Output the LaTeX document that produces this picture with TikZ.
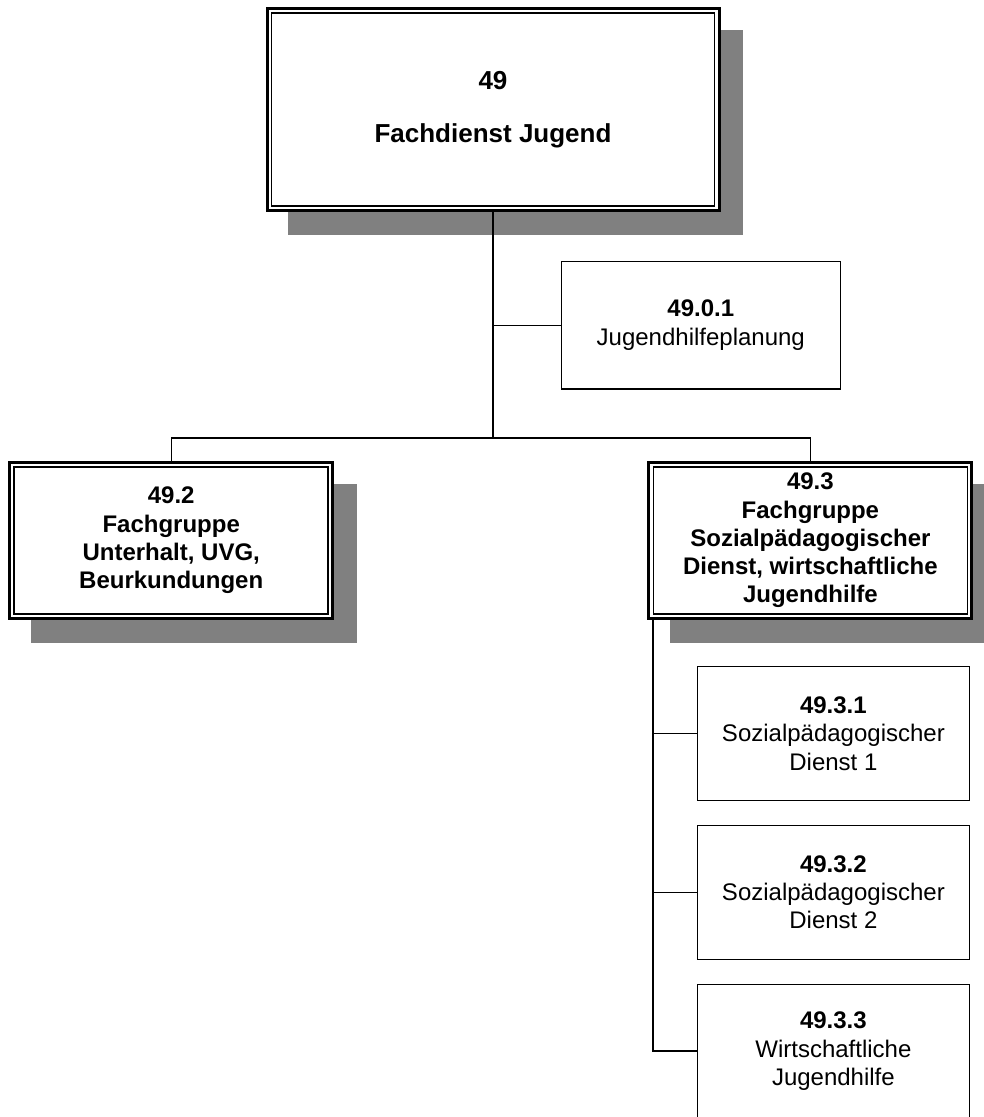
\documentclass[tikz,border=0pt]{standalone}
\usepackage{fontspec}
\setmainfont{Liberation Sans}
\usetikzlibrary{backgrounds}
\definecolor{shadowgray}{HTML}{808080}
\begin{document}
\begin{tikzpicture}[x=1pt,y=-1pt,
  dbox/.style={draw, fill=white, line width=3pt, inner sep=2pt, align=center,
    font=\bfseries\fontsize{24}{28.3}\selectfont},
  sbox/.style={draw, fill=white, line width=1.4pt, inner sep=2pt, align=center,
    font=\fontsize{24}{28.3}\selectfont},
  link/.style={line width=1.3pt},
  innerline/.style={line width=1.5pt},
  shadowfill/.style={fill=shadowgray}]
\useasboundingbox (0,0) rectangle (984,1117);

% main boxes (double border, shadow)
\node[dbox, minimum width=452, minimum height=202,
  font=\bfseries\fontsize{26}{53.6}\selectfont] (n49) at (493,109.5) {49\\Fachdienst Jugend};
\node[dbox, minimum width=323, minimum height=156] (n492) at (171.2,540.5)
  {49.2\\Fachgruppe\\Unterhalt, UVG,\\Beurkundungen};
\node[dbox, minimum width=323, minimum height=156] (n493) at (810.4,540.5)
  {49.3\\Fachgruppe\\Sozialpädagogischer\\Dienst, wirtschaftliche\\Jugendhilfe};

% simple boxes
\node[sbox, minimum width=279, minimum height=127.6] (n4901) at (700.8,325.2)
  {\textbf{49.0.1}\\Jugendhilfeplanung};
\node[sbox, minimum width=271.6, minimum height=133.6] (n4931) at (833.4,733.5)
  {\textbf{49.3.1}\\Sozialpädagogischer\\Dienst 1};
\node[sbox, minimum width=271.6, minimum height=133.6] (n4932) at (833.4,892.4)
  {\textbf{49.3.2}\\Sozialpädagogischer\\Dienst 2};
\node[sbox, minimum width=271.6, minimum height=133.6] (n4933) at (833.4,1051.1)
  {\textbf{49.3.3}\\Wirtschaftliche\\Jugendhilfe};

% inner lines of double borders
\foreach \n in {n49,n492,n493}
  \draw[innerline] ([shift={(6,6)}]\n.north west) rectangle ([shift={(-6,-6)}]\n.south east);

% shadows
\begin{scope}[on background layer]
  \clip (0,0) rectangle (984,1117);
  \foreach \n in {n49,n492,n493}
    \fill[shadowfill] ([shift={(22.5,22.5)}]\n.north west) rectangle ([shift={(22.5,22.5)}]\n.south east);
\end{scope}

% connectors
\coordinate (bar) at (493,438);
\draw[link] (n49.south) -- (bar);
\draw[link] (n492.north) |- (bar) -| (n493.north);
\draw[link] (n49.south |- n4901.west) -- (n4901.west);
\coordinate (spine) at ([shift={(5.7,0)}]n493.south west);
\draw[link] (spine) |- (n4933.west);
\draw[link] (spine |- n4931.west) -- (n4931.west);
\draw[link] (spine |- n4932.west) -- (n4932.west);
\end{tikzpicture}
\end{document}
